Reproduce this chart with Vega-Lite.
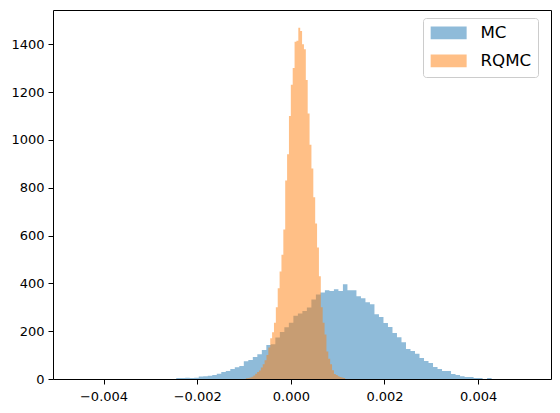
{
  "$schema": "https://vega.github.io/schema/vega-lite/v6.json",
  "width": 498,
  "height": 369,
  "autosize": {"type": "none"},
  "padding": {"left": 53, "top": 10, "right": 9, "bottom": 34},
  "background": "white",
  "config": {
    "font": "DejaVu Sans",
    "view": {"stroke": "black", "strokeWidth": 1},
    "axis": {"domain": false, "grid": false, "ticks": true, "tickColor": "black", "tickSize": 5, "tickWidth": 1, "labelFont": "DejaVu Sans", "labelFontSize": 13, "labelColor": "black", "labelPadding": 4, "title": null},
    "axisX": {"labelPadding": 6}
  },
  "datasets": {
    "mc": [
      {"s":"MC","lo":-0.002447,"n":4},
      {"s":"MC","lo":-0.0023508,"n":4},
      {"s":"MC","lo":-0.0022546,"n":5},
      {"s":"MC","lo":-0.0021584,"n":4},
      {"s":"MC","lo":-0.0020622,"n":5},
      {"s":"MC","lo":-0.001966,"n":10},
      {"s":"MC","lo":-0.0018698,"n":12},
      {"s":"MC","lo":-0.0017736,"n":14},
      {"s":"MC","lo":-0.0016774,"n":17},
      {"s":"MC","lo":-0.0015812,"n":22},
      {"s":"MC","lo":-0.001485,"n":29},
      {"s":"MC","lo":-0.0013888,"n":33},
      {"s":"MC","lo":-0.0012926,"n":42},
      {"s":"MC","lo":-0.0011964,"n":49},
      {"s":"MC","lo":-0.0011002,"n":54},
      {"s":"MC","lo":-0.001004,"n":74},
      {"s":"MC","lo":-0.0009078,"n":79},
      {"s":"MC","lo":-0.0008116,"n":92},
      {"s":"MC","lo":-0.0007154,"n":104},
      {"s":"MC","lo":-0.0006192,"n":121},
      {"s":"MC","lo":-0.000523,"n":142},
      {"s":"MC","lo":-0.0004268,"n":145},
      {"s":"MC","lo":-0.0003306,"n":174},
      {"s":"MC","lo":-0.0002344,"n":197},
      {"s":"MC","lo":-0.0001382,"n":216},
      {"s":"MC","lo":-0.000042,"n":235},
      {"s":"MC","lo":0.0000542,"n":264},
      {"s":"MC","lo":0.0001504,"n":274},
      {"s":"MC","lo":0.0002466,"n":284},
      {"s":"MC","lo":0.0003428,"n":299},
      {"s":"MC","lo":0.000439,"n":332},
      {"s":"MC","lo":0.0005352,"n":353},
      {"s":"MC","lo":0.0006314,"n":362},
      {"s":"MC","lo":0.0007276,"n":371},
      {"s":"MC","lo":0.0008238,"n":368},
      {"s":"MC","lo":0.00092,"n":375},
      {"s":"MC","lo":0.0010162,"n":368},
      {"s":"MC","lo":0.0011124,"n":396},
      {"s":"MC","lo":0.0012086,"n":371},
      {"s":"MC","lo":0.0013048,"n":371},
      {"s":"MC","lo":0.001401,"n":346},
      {"s":"MC","lo":0.0014972,"n":338},
      {"s":"MC","lo":0.0015934,"n":321},
      {"s":"MC","lo":0.0016896,"n":313},
      {"s":"MC","lo":0.0017858,"n":271},
      {"s":"MC","lo":0.001882,"n":259},
      {"s":"MC","lo":0.0019782,"n":234},
      {"s":"MC","lo":0.0020744,"n":217},
      {"s":"MC","lo":0.0021706,"n":192},
      {"s":"MC","lo":0.0022668,"n":175},
      {"s":"MC","lo":0.002363,"n":154},
      {"s":"MC","lo":0.0024592,"n":125},
      {"s":"MC","lo":0.0025554,"n":117},
      {"s":"MC","lo":0.0026516,"n":106},
      {"s":"MC","lo":0.0027478,"n":88},
      {"s":"MC","lo":0.002844,"n":75},
      {"s":"MC","lo":0.0029402,"n":67},
      {"s":"MC","lo":0.0030364,"n":50},
      {"s":"MC","lo":0.0031326,"n":42},
      {"s":"MC","lo":0.0032288,"n":33},
      {"s":"MC","lo":0.003325,"n":33},
      {"s":"MC","lo":0.0034212,"n":21},
      {"s":"MC","lo":0.0035174,"n":17},
      {"s":"MC","lo":0.0036136,"n":12},
      {"s":"MC","lo":0.0037098,"n":8},
      {"s":"MC","lo":0.003806,"n":8},
      {"s":"MC","lo":0.0039022,"n":4},
      {"s":"MC","lo":0.0039984,"n":4},
      {"s":"MC","lo":0.0040946,"n":0},
      {"s":"MC","lo":0.0041908,"n":4},
      {"s":"MC","lo":0.004287,"n":0}
    ],
    "rqmc": [
      {"s":"RQMC","lo":-0.00096,"n":3},
      {"s":"RQMC","lo":-0.00092,"n":4},
      {"s":"RQMC","lo":-0.00088,"n":6},
      {"s":"RQMC","lo":-0.00084,"n":9},
      {"s":"RQMC","lo":-0.0008,"n":15},
      {"s":"RQMC","lo":-0.00076,"n":22},
      {"s":"RQMC","lo":-0.00072,"n":29},
      {"s":"RQMC","lo":-0.00068,"n":36},
      {"s":"RQMC","lo":-0.00064,"n":48},
      {"s":"RQMC","lo":-0.0006,"n":62},
      {"s":"RQMC","lo":-0.00056,"n":78},
      {"s":"RQMC","lo":-0.00052,"n":100},
      {"s":"RQMC","lo":-0.00048,"n":132},
      {"s":"RQMC","lo":-0.00044,"n":170},
      {"s":"RQMC","lo":-0.0004,"n":196},
      {"s":"RQMC","lo":-0.00036,"n":235},
      {"s":"RQMC","lo":-0.00032,"n":300},
      {"s":"RQMC","lo":-0.00028,"n":380},
      {"s":"RQMC","lo":-0.00024,"n":450},
      {"s":"RQMC","lo":-0.0002,"n":520},
      {"s":"RQMC","lo":-0.00016,"n":625},
      {"s":"RQMC","lo":-0.00012,"n":830},
      {"s":"RQMC","lo":-0.00008,"n":940},
      {"s":"RQMC","lo":-0.00004,"n":1100},
      {"s":"RQMC","lo":0,"n":1230},
      {"s":"RQMC","lo":0.00004,"n":1300},
      {"s":"RQMC","lo":0.00008,"n":1410},
      {"s":"RQMC","lo":0.00012,"n":1414},
      {"s":"RQMC","lo":0.00016,"n":1469},
      {"s":"RQMC","lo":0.0002,"n":1455},
      {"s":"RQMC","lo":0.00024,"n":1400},
      {"s":"RQMC","lo":0.00028,"n":1379},
      {"s":"RQMC","lo":0.00032,"n":1250},
      {"s":"RQMC","lo":0.00036,"n":1110},
      {"s":"RQMC","lo":0.0004,"n":980},
      {"s":"RQMC","lo":0.00044,"n":880},
      {"s":"RQMC","lo":0.00048,"n":760},
      {"s":"RQMC","lo":0.00052,"n":650},
      {"s":"RQMC","lo":0.00056,"n":550},
      {"s":"RQMC","lo":0.0006,"n":430},
      {"s":"RQMC","lo":0.00064,"n":300},
      {"s":"RQMC","lo":0.00068,"n":235},
      {"s":"RQMC","lo":0.00072,"n":186},
      {"s":"RQMC","lo":0.00076,"n":115},
      {"s":"RQMC","lo":0.0008,"n":85},
      {"s":"RQMC","lo":0.00084,"n":62},
      {"s":"RQMC","lo":0.00088,"n":37},
      {"s":"RQMC","lo":0.00092,"n":21},
      {"s":"RQMC","lo":0.00096,"n":17},
      {"s":"RQMC","lo":0.001,"n":12},
      {"s":"RQMC","lo":0.00104,"n":8},
      {"s":"RQMC","lo":0.00108,"n":6},
      {"s":"RQMC","lo":0.00112,"n":4},
      {"s":"RQMC","lo":0.00116,"n":0}
    ]
  },
  "encoding": {
    "x": {"field": "lo", "type": "quantitative", "scale": {"domain": [-0.005079, 0.005556], "nice": false, "zero": false}, "axis": {"values": [-0.004, -0.002, 0, 0.002, 0.004], "format": ".3f"}},
    "y": {"field": "n", "type": "quantitative", "scale": {"domain": [0, 1543], "nice": false}, "axis": {"values": [0, 200, 400, 600, 800, 1000, 1200, 1400], "format": "d"}},
    "y2": {"datum": 0},
    "color": {"field": "s", "type": "nominal", "scale": {"domain": ["MC", "RQMC"], "range": ["#1f77b4", "#ff7f0e"]},
      "legend": {"orient": "none", "legendX": 370, "legendY": 8, "title": null, "symbolType": "M-2.5,-0.882H2.5V0.882H-2.5Z", "symbolSize": 207, "symbolOffset": 10.8, "symbolOpacity": 0.5, "symbolStrokeWidth": 0, "labelFont": "DejaVu Sans", "labelFontSize": 16.7, "labelColor": "black", "labelOffset": 23.4, "rowPadding": 10, "padding": 6.5, "strokeColor": "#cccccc", "fillColor": "white", "cornerRadius": 3}}
  },
  "layer": [
    {"data": {"name": "mc"}, "mark": {"type": "area", "interpolate": "step-after", "opacity": 0.5, "strokeWidth": 0}},
    {"data": {"name": "rqmc"}, "mark": {"type": "area", "interpolate": "step-after", "opacity": 0.5, "strokeWidth": 0}}
  ]
}
